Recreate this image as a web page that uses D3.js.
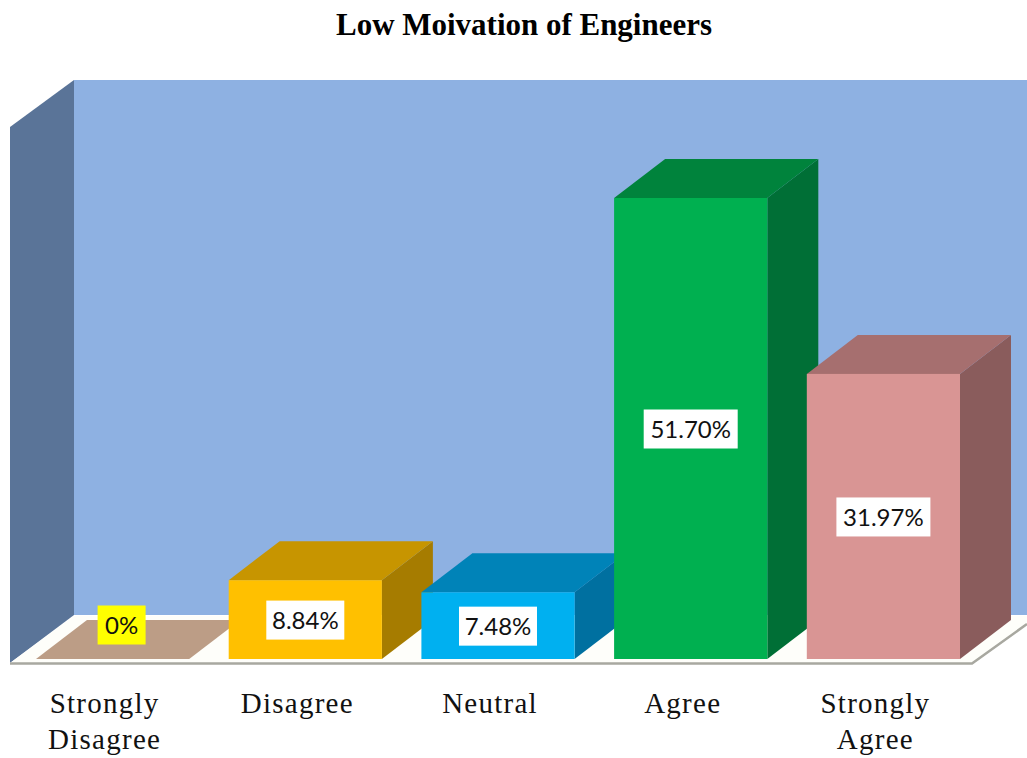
<!DOCTYPE html>
<html>

<head>
  <meta charset="utf-8">
  <title>Low Moivation of Engineers</title>
  <script src="https://cdn.jsdelivr.net/npm/d3@7/dist/d3.min.js"></script>
  <style>
    html, body { margin: 0; padding: 0; background: #fff; overflow: hidden; }
    svg { display: block; }
  </style>
</head>

<body>
  <script>
    // data
    const categories = ["Strongly Disagree", "Disagree", "Neutral", "Agree", "Strongly Agree"];
    const values = [0, 8.84, 7.48, 51.70, 31.97];
    const valueLabels = ["0%", "8.84%", "7.48%", "51.70%", "31.97%"];

    // colours per bar
    const frontColors = ["#BC9D86", "#FFC000", "#00B0F0", "#00B050", "#D99594"];
    const topColors = ["#BC9D86", "#C79500", "#0083B8", "#00833C", "#A66F6F"];
    const sideColors = ["#BC9D86", "#A67C00", "#0070A0", "#006F36", "#8A5C5C"];

    const w = 1027;
    const h = 758;
    const baseY = 659;
    const depthX = 51;
    const depthY = 39;

    const svg = d3.select("body").append("svg")
      .attr("width", w)
      .attr("height", h);

    const x = d3.scaleBand()
      .domain(categories)
      .range([36, 960])
      .paddingInner(0.205);

    const y = d3.scaleLinear()
      .domain([0, 51.70])
      .range([baseY, 198]);

    const line = d3.line();

    // title
    svg.append("text")
      .attr("x", 524)
      .attr("y", 35)
      .attr("text-anchor", "middle")
      .attr("font-family", "Liberation Serif")
      .attr("font-weight", "bold")
      .attr("font-size", 31)
      .attr("textLength", 376)
      .attr("lengthAdjust", "spacingAndGlyphs")
      .attr("fill", "#000")
      .text("Low Moivation of Engineers");

    // walls and floor
    svg.append("path")
      .attr("d", line([[74, 80], [1027, 80], [1027, 615], [74, 615]]) + "Z")
      .attr("fill", "#8EB1E2");
    svg.append("path")
      .attr("d", line([[10, 127], [74, 80], [74, 615], [10, 663]]) + "Z")
      .attr("fill", "#5A7498");
    svg.append("path")
      .attr("d", line([[10, 663], [74, 616], [1027, 616], [1027, 624], [972, 663]]) + "Z")
      .attr("fill", "#FEFEFA");
    svg.append("path")
      .attr("d", line([[10, 663.5], [972, 663.5], [1027, 624]]))
      .attr("fill", "none")
      .attr("stroke", "#A8A8A0")
      .attr("stroke-width", 2.5);

    // bars, back to front so the side faces sit under the next bar
    const bars = svg.selectAll("g.bar")
      .data(categories)
      .enter()
      .append("g")
      .attr("class", "bar");

    bars.append("path")
      .attr("d", function (d, i) {
        const x1 = x(d) + x.bandwidth();
        const yT = y(values[i]);
        return line([[x1, yT], [x1 + depthX, yT - depthY], [x1 + depthX, baseY - depthY], [x1, baseY]]) + "Z";
      })
      .attr("fill", function (d, i) { return sideColors[i]; });

    bars.append("path")
      .attr("d", function (d, i) {
        const x0 = x(d);
        const x1 = x0 + x.bandwidth();
        const yT = y(values[i]);
        return line([[x0, yT], [x0 + depthX, yT - depthY], [x1 + depthX, yT - depthY], [x1, yT]]) + "Z";
      })
      .attr("fill", function (d, i) { return topColors[i]; });

    bars.append("rect")
      .attr("x", function (d) { return x(d); })
      .attr("y", function (d, i) { return y(values[i]); })
      .attr("width", x.bandwidth())
      .attr("height", function (d, i) { return baseY - y(values[i]); })
      .attr("fill", function (d, i) { return frontColors[i]; });

    // value labels
    const labels = svg.selectAll("g.value")
      .data(categories)
      .enter()
      .append("g")
      .attr("class", "value")
      .attr("transform", function (d, i) {
        // the zero bar is flat, its label sits on the floor face
        if (values[i] === 0) return "translate(" + (x(d) + x.bandwidth() / 2 + 9) + "," + (baseY - 34) + ")";
        return "translate(" + (x(d) + x.bandwidth() / 2) + "," + ((y(values[i]) + baseY) / 2 + 0.5) + ")";
      });

    labels.append("rect")
      .attr("x", function (d, i) { return values[i] === 0 ? -24 : (valueLabels[i].length > 5 ? -47 : -39); })
      .attr("y", -19.5)
      .attr("width", function (d, i) { return values[i] === 0 ? 48 : (valueLabels[i].length > 5 ? 94 : 78); })
      .attr("height", 39)
      .attr("fill", function (d, i) { return values[i] === 0 ? "#FFFF00" : "#fff"; });

    labels.append("text")
      .attr("text-anchor", "middle")
      .attr("dy", "0.36em")
      .attr("font-family", "Lato")
      .attr("font-size", 24)
      .attr("fill", "#111")
      .text(function (d, i) { return valueLabels[i]; });

    // category axis, labels wrap onto two lines
    const axis = d3.axisBottom(x).tickSize(0).tickPadding(0);
    const axisG = svg.append("g")
      .attr("transform", "translate(-8,0)")
      .call(axis);
    axisG.select(".domain").remove();
    axisG.selectAll(".tick text")
      .attr("font-family", "Liberation Serif")
      .attr("font-size", 29)
      .attr("letter-spacing", 1.25)
      .attr("fill", "#111")
      .attr("y", 0)
      .attr("dy", null)
      .each(function (d) {
        const t = d3.select(this);
        const words = d.split(" ");
        t.text(null);
        words.forEach(function (word, k) {
          t.append("tspan")
            .attr("x", 0)
            .attr("y", 713 + k * 36)
            .text(word);
        });
      });
  </script>
</body>

</html>
